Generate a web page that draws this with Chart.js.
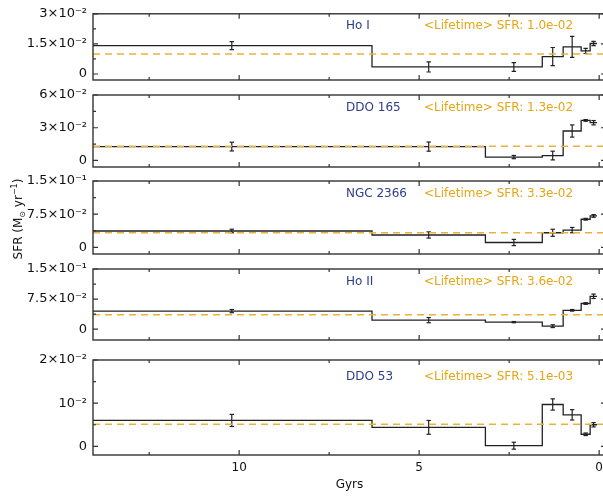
<!DOCTYPE html>
<html><head><meta charset="utf-8">
<script src="https://cdn.jsdelivr.net/npm/chart.js@4/dist/chart.umd.min.js"></script>
<style>
html,body{margin:0;padding:0;background:#fff;overflow:hidden;width:603px;height:496px;position:relative;}
canvas{position:absolute;left:0;top:0;}
#ylab{position:absolute;left:-62px;top:211px;width:160px;height:16px;line-height:16px;text-align:center;
  transform:rotate(-90deg);transform-origin:50% 50%;font:12px "DejaVu Sans";color:#111;white-space:nowrap;}
#ylab sub,#ylab sup{font-size:8px;}
</style></head><body>
<canvas id="c0" width="612" height="496"></canvas>
<canvas id="c1" width="612" height="496"></canvas>
<canvas id="c2" width="612" height="496"></canvas>
<canvas id="c3" width="612" height="496"></canvas>
<canvas id="c4" width="612" height="496"></canvas>
<div id="ylab">SFR (M<sub>⊙</sub> yr<sup>−1</sup>)</div>
<script>
// ---- data ----
const binEdges = [14.1, 6.31, 3.16, 1.58, 1.0, 0.5, 0.25, 0.06]; // Gyr (bin edges)
const galaxies = ['Ho I', 'DDO 165', 'NGC 2366', 'Ho II', 'DDO 53'];
const lifetimeSFR = [0.010, 0.013, 0.033, 0.036, 0.0051];
const lifetimeText = ['1.0e-02', '1.3e-02', '3.3e-02', '3.6e-02', '5.1e-03'];

const sfrHoI    = [0.0141, 0.0035, 0.0035, 0.0087, 0.0135, 0.0115, 0.0152];
const errHoI    = [0.0020, 0.0025, 0.0022, 0.0045, 0.0052, 0.0013, 0.0011];
const sfrDDO165 = [0.0127, 0.0127, 0.0031, 0.0045, 0.0270, 0.0367, 0.0346];
const errDDO165 = [0.0040, 0.0042, 0.0015, 0.0040, 0.0056, 0.0008, 0.0020];
const sfrNGC2366= [0.037, 0.028, 0.011, 0.033, 0.039, 0.0636, 0.071];
const errNGC2366= [0.004, 0.007, 0.007, 0.008, 0.006, 0.0020, 0.003];
const sfrHoII   = [0.045, 0.0225, 0.0175, 0.0075, 0.047, 0.064, 0.082];
const errHoII   = [0.004, 0.0065, 0.0015, 0.0035, 0.002, 0.002, 0.0055];
const sfrDDO53  = [0.0060, 0.0044, 0.00015, 0.0097, 0.0073, 0.0028, 0.0050];
const errDDO53  = [0.0014, 0.0016, 0.0008, 0.0013, 0.0012, 0.0003, 0.0005];

const yMaxes = [0.03, 0.06, 0.15, 0.15, 0.02];
const yMins  = [-0.003, -0.006, -0.015, -0.027, -0.002];
const yTickValues = [[0, 0.015, 0.03], [0, 0.03, 0.06], [0, 0.075, 0.15], [0, 0.075, 0.15], [0, 0.01, 0.02]];
const yTickLabels = [['0', '1.5×10⁻²', '3×10⁻²'], ['0', '3×10⁻²', '6×10⁻²'], ['0', '7.5×10⁻²', '1.5×10⁻¹'], ['0', '7.5×10⁻²', '1.5×10⁻¹'], ['0', '10⁻²', '2×10⁻²']];
const xTickValues = [10, 5, 0];
const xMinorTicks = [12.5, 7.5, 2.5];
const xMin = -0.19, xMax = 14.06;

const sfrs = [sfrHoI, sfrDDO165, sfrNGC2366, sfrHoII, sfrDDO53];
const errs = [errHoI, errDDO165, errNGC2366, errHoII, errDDO53];

// ---- layout (pixels) ----
const panelTops = [7, 95, 181, 269, 360];
const panelBottoms = [80, 167, 254, 340, 455];
const W = 612, H = 496, plotLeft = 93, plotRight = 606;

const yTickFont = {family: 'DejaVu Sans', size: 13};
const xTickFont = {family: 'DejaVu Sans', size: 12};
const ink = '#333';

const framePlugin = {
  id: 'frame',
  afterDraw(chart, args, o) {
    const {ctx, chartArea: a, scales} = chart;
    const x = scales.x, y = scales.y;
    ctx.save();
    ctx.strokeStyle = ink;
    ctx.lineWidth = 1.4;
    ctx.strokeRect(a.left, a.top, a.right - a.left, a.bottom - a.top);
    ctx.lineWidth = 1.2;
    ctx.beginPath();
    const xt = (v, len) => { const p = x.getPixelForValue(v); ctx.moveTo(p, a.bottom); ctx.lineTo(p, a.bottom - len); ctx.moveTo(p, a.top); ctx.lineTo(p, a.top + len); };
    xTickValues.forEach(v => xt(v, 5));
    xMinorTicks.forEach(v => xt(v, 3));
    const yt = (v, len) => { const p = y.getPixelForValue(v); ctx.moveTo(a.left, p); ctx.lineTo(a.left + len, p); ctx.moveTo(a.right, p); ctx.lineTo(a.right - len, p); };
    const tv = yTickValues[o.idx];
    tv.forEach(v => yt(v, 5));
    for (let i = 0; i < tv.length - 1; i++) yt((tv[i] + tv[i + 1]) / 2, 3);
    ctx.stroke();
    const ty = a.top + 0.18 * (a.bottom - a.top);
    ctx.textBaseline = 'middle';
    ctx.textAlign = 'left';
    ctx.font = '12px "DejaVu Sans"';
    ctx.fillStyle = '#2e3c8c';
    ctx.fillText(galaxies[o.idx], 346, ty);
    ctx.fillStyle = '#e6a514';
    ctx.fillText('<Lifetime> SFR: ' + lifetimeText[o.idx], 424, ty);
    ctx.restore();
  }
};

for (let i = 0; i < 5; i++) {
  const isBottom = i === 4;
  const sfr = sfrs[i], err = errs[i];
  const stepData = sfr.map((v, k) => ({x: binEdges[k], y: v}));
  stepData.push({x: binEdges[binEdges.length - 1], y: sfr[sfr.length - 1]});
  const errData = [];
  sfr.forEach((v, k) => {
    const c = (binEdges[k] + binEdges[k + 1]) / 2;
    errData.push({x: c, y: v - err[k]}, {x: c, y: v + err[k]}, {x: c, y: null});
  });
  const lifeData = [{x: xMax, y: lifetimeSFR[i]}, {x: xMin, y: lifetimeSFR[i]}];

  new Chart(document.getElementById('c' + i), {
    type: 'line',
    data: {datasets: [
      {data: lifeData, borderColor: '#ebb136', borderWidth: 1.5, borderDash: [7, 5], pointRadius: 0, order: 0},
      {data: stepData, stepped: 'before', borderColor: '#222', borderWidth: 1.3, pointRadius: 0, order: 1},
      {data: errData, borderColor: '#222', borderWidth: 1.2, pointStyle: 'line', pointRadius: 2.2,
       pointBorderColor: '#222', pointBorderWidth: 1.2, spanGaps: false, order: 2}
    ]},
    options: {
      responsive: false, animation: false, devicePixelRatio: 1,
      layout: {padding: {top: panelTops[i], bottom: isBottom ? 0 : H - panelBottoms[i], left: 0, right: W - plotRight}},
      plugins: {legend: {display: false}, tooltip: {enabled: false}, frame: {idx: i}},
      elements: {line: {tension: 0}},
      scales: {
        x: {
          type: 'linear', reverse: true, min: xMin, max: xMax, display: isBottom,
          grid: {display: false, drawTicks: false}, border: {display: false},
          ticks: {font: xTickFont, color: '#111', padding: 6, maxRotation: 0, autoSkip: false,
                  callback: v => String(v)},
          afterBuildTicks: s => { s.ticks = xTickValues.map(v => ({value: v})); },
          afterFit: s => { s.paddingLeft = 0; s.paddingRight = 0; if (isBottom) s.height = H - panelBottoms[i]; },
          title: {display: isBottom, text: 'Gyrs', font: {family: 'DejaVu Sans', size: 12}, color: '#111', padding: {top: 4, bottom: 4}}
        },
        y: {
          type: 'linear', min: yMins[i], max: yMaxes[i],
          grid: {display: false, drawTicks: false}, border: {display: false},
          ticks: {font: yTickFont, color: '#111', padding: 6, autoSkip: false,
                  callback: (v, idx) => yTickLabels[i][idx]},
          afterBuildTicks: s => { s.ticks = yTickValues[i].map(v => ({value: v})); },
          afterFit: s => { s.width = plotLeft; }
        }
      }
    },
    plugins: [framePlugin]
  });
}
</script>
</body></html>
